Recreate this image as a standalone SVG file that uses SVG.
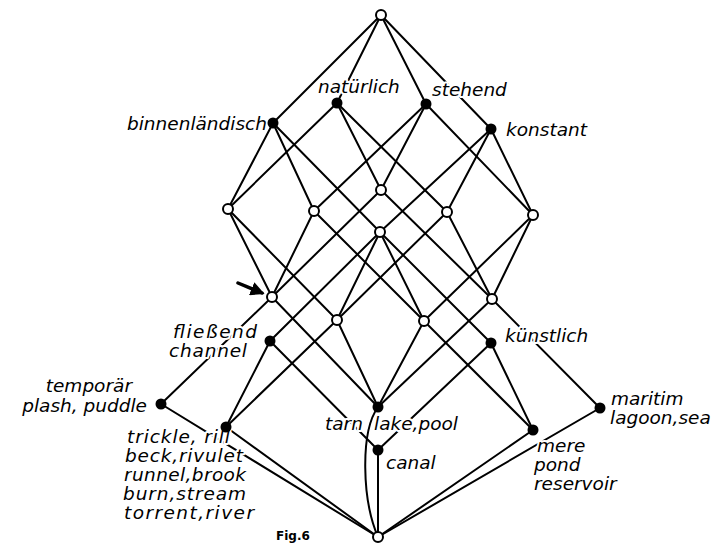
<svg xmlns="http://www.w3.org/2000/svg" width="723" height="544" viewBox="0 0 723 544">
<style>
.e{stroke:#000;stroke-width:2;fill:none;stroke-linecap:round}
.o{fill:#fff;stroke:#000;stroke-width:2}
.f{fill:#000}
.t{font-family:"DejaVu Sans","Liberation Sans",sans-serif;font-style:italic;font-size:18.5px;fill:#000;stroke:#fff;stroke-width:4;stroke-linejoin:round;paint-order:stroke}
.fig{font-family:"DejaVu Sans",sans-serif;font-weight:bold;font-size:12px;fill:#000}
</style>
<defs>
<marker id="ah" viewBox="0 0 10 10" refX="8" refY="5" markerWidth="4" markerHeight="4" orient="auto" markerUnits="strokeWidth">
<path d="M0,0 L10,5 L0,10 z" fill="#000"/>
</marker>
</defs>
<rect width="723" height="544" fill="#fff"/>
<g id="connectors" class="e">
<line x1="381" y1="15" x2="273" y2="123"/>
<line x1="381" y1="15" x2="337" y2="103"/>
<line x1="381" y1="15" x2="426" y2="104"/>
<line x1="381" y1="15" x2="491" y2="129"/>
<line x1="273" y1="123" x2="228" y2="209"/>
<line x1="273" y1="123" x2="314" y2="211"/>
<line x1="273" y1="123" x2="380" y2="232"/>
<line x1="337" y1="103" x2="228" y2="209"/>
<line x1="337" y1="103" x2="381" y2="190"/>
<line x1="337" y1="103" x2="447" y2="212"/>
<line x1="426" y1="104" x2="314" y2="211"/>
<line x1="426" y1="104" x2="381" y2="190"/>
<line x1="426" y1="104" x2="533" y2="215"/>
<line x1="491" y1="129" x2="380" y2="232"/>
<line x1="491" y1="129" x2="447" y2="212"/>
<line x1="491" y1="129" x2="533" y2="215"/>
<line x1="228" y1="209" x2="272" y2="297"/>
<line x1="228" y1="209" x2="337" y2="320"/>
<line x1="314" y1="211" x2="272" y2="297"/>
<line x1="314" y1="211" x2="424" y2="321"/>
<line x1="381" y1="190" x2="272" y2="297"/>
<line x1="381" y1="190" x2="492" y2="299"/>
<line x1="380" y1="232" x2="337" y2="320"/>
<line x1="380" y1="232" x2="424" y2="321"/>
<line x1="380" y1="232" x2="270" y2="341"/>
<line x1="380" y1="232" x2="491" y2="343"/>
<line x1="447" y1="212" x2="337" y2="320"/>
<line x1="447" y1="212" x2="492" y2="299"/>
<line x1="533" y1="215" x2="424" y2="321"/>
<line x1="533" y1="215" x2="492" y2="299"/>
<line x1="272" y1="297" x2="161" y2="404"/>
<line x1="272" y1="297" x2="378" y2="407"/>
<line x1="337" y1="320" x2="226" y2="427"/>
<line x1="337" y1="320" x2="378" y2="407"/>
<line x1="424" y1="321" x2="378" y2="407"/>
<line x1="424" y1="321" x2="533" y2="430"/>
<line x1="492" y1="299" x2="378" y2="407"/>
<line x1="492" y1="299" x2="600" y2="408"/>
<line x1="270" y1="341" x2="226" y2="427"/>
<line x1="270" y1="341" x2="378" y2="450"/>
<line x1="491" y1="343" x2="378" y2="450"/>
<line x1="491" y1="343" x2="533" y2="430"/>
<line x1="161" y1="404" x2="378" y2="537"/>
<line x1="226" y1="427" x2="378" y2="537"/>
<path d="M378,407 C360,432 362,500 378,537"/>
<line x1="378" y1="450" x2="378" y2="537"/>
<line x1="533" y1="430" x2="378" y2="537"/>
<line x1="600" y1="408" x2="378" y2="537"/>
<line x1="238" y1="283" x2="262" y2="293" stroke-width="3.5" marker-end="url(#ah)"/>
</g>
<g id="n-top"><circle class="o" cx="381" cy="15" r="5"/></g>
<g id="n-binnen"><text class="t" x="267" y="130" text-anchor="end">binnenländisch</text><circle class="f" cx="273" cy="123" r="5.5"/></g>
<g id="n-natuerlich"><text class="t" x="318" y="93">natürlich</text><circle class="f" cx="337" cy="103" r="5.5"/></g>
<g id="n-stehend"><text class="t" x="432" y="96">stehend</text><circle class="f" cx="426" cy="104" r="5.5"/></g>
<g id="n-konstant"><text class="t" x="506" y="136">konstant</text><circle class="f" cx="491" cy="129" r="5.5"/></g>
<g id="n-bn"><circle class="o" cx="228" cy="209" r="5"/></g>
<g id="n-bs"><circle class="o" cx="314" cy="211" r="5"/></g>
<g id="n-ns"><circle class="o" cx="381" cy="190" r="5"/></g>
<g id="n-bk"><circle class="o" cx="380" cy="232" r="5"/></g>
<g id="n-nk"><circle class="o" cx="447" cy="212" r="5"/></g>
<g id="n-sk"><circle class="o" cx="533" cy="215" r="5"/></g>
<g id="n-bns"><circle class="o" cx="272" cy="297" r="5"/></g>
<g id="n-bnk"><circle class="o" cx="337" cy="320" r="5"/></g>
<g id="n-bsk"><circle class="o" cx="424" cy="321" r="5"/></g>
<g id="n-nsk"><circle class="o" cx="492" cy="299" r="5"/></g>
<g id="n-fliessend"><text class="t" x="173" y="338" textLength="84">fließend</text><text class="t" x="169" y="357" textLength="78">channel</text><circle class="f" cx="270" cy="341" r="5.5"/></g>
<g id="n-kuenstlich"><text class="t" x="505" y="342">künstlich</text><circle class="f" cx="491" cy="343" r="5.5"/></g>
<g id="n-temporaer"><text class="t" x="132" y="392" text-anchor="end">temporär</text><text class="t" x="147" y="412" text-anchor="end">plash, puddle</text><circle class="f" cx="161" cy="404" r="5.5"/></g>
<g id="n-trickle"><text class="t" x="127" y="443" textLength="103">trickle, rill</text><text class="t" x="125" y="462" textLength="118">beck,rivulet</text><text class="t" x="124" y="481" textLength="122">runnel,brook</text><text class="t" x="123" y="500" textLength="123">burn,stream</text><text class="t" x="124" y="519" textLength="130">torrent,river</text><circle class="f" cx="226" cy="427" r="5.5"/></g>
<g id="n-tarn"><text class="t" x="325" y="430">tarn</text><text class="t" x="374" y="430">lake,pool</text><circle class="f" cx="378" cy="407" r="5.5"/></g>
<g id="n-canal"><text class="t" x="386" y="469">canal</text><circle class="f" cx="378" cy="450" r="5.5"/></g>
<g id="n-mere"><text class="t" x="537" y="452">mere</text><text class="t" x="534" y="471">pond</text><text class="t" x="534" y="490">reservoir</text><circle class="f" cx="533" cy="430" r="5.5"/></g>
<g id="n-maritim"><text class="t" x="611" y="405">maritim</text><text class="t" x="610" y="424">lagoon,sea</text><circle class="f" cx="600" cy="408" r="5.5"/></g>
<g id="n-bottom"><circle class="o" cx="378" cy="537" r="5"/></g>
<text class="fig" x="276" y="540">Fig.6</text>
</svg>
